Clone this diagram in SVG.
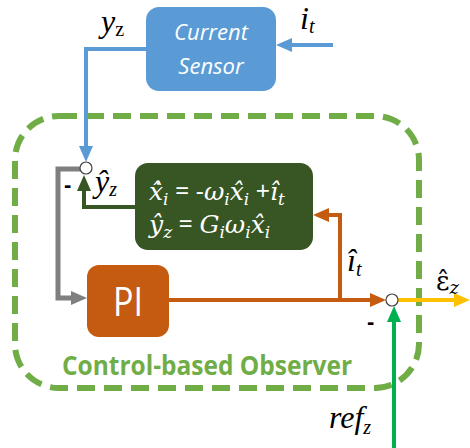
<svg xmlns="http://www.w3.org/2000/svg" width="470" height="448" viewBox="0 0 470 448">
<style>
.ln{fill:none;stroke-linejoin:miter}
.math{font-family:"Liberation Serif","DejaVu Serif",serif;font-style:italic;fill:#000;font-size:32px}
.sub{font-size:20px}
.eq{font-family:"DejaVu Serif",serif;font-style:italic;fill:#fff;font-size:25px}
.eq .sub{font-size:17px}
.op{font-family:"Open Sans","Liberation Sans",sans-serif;font-style:normal}
.minus{font-family:"Liberation Sans",sans-serif;font-weight:bold;font-size:22px;fill:#000}
.box{font-family:"Open Sans","Liberation Sans",sans-serif;fill:#fff}
</style>
<defs>
<marker id="aBlue" markerUnits="userSpaceOnUse" markerWidth="16" markerHeight="14" refX="8" refY="7" orient="auto"><path d="M0,0 L16,7 L0,14 z" fill="#5B9BD5"/></marker>
<marker id="aGray" markerUnits="userSpaceOnUse" markerWidth="16" markerHeight="14" refX="8" refY="7" orient="auto"><path d="M0,0 L16,7 L0,14 z" fill="#7F7F7F"/></marker>
<marker id="aDG" markerUnits="userSpaceOnUse" markerWidth="16" markerHeight="14" refX="8" refY="7" orient="auto"><path d="M0,0 L16,7 L0,14 z" fill="#375623"/></marker>
<marker id="aOr" markerUnits="userSpaceOnUse" markerWidth="16" markerHeight="14" refX="8" refY="7" orient="auto"><path d="M0,0 L16,7 L0,14 z" fill="#C55A11"/></marker>
<marker id="aYel" markerUnits="userSpaceOnUse" markerWidth="16" markerHeight="14" refX="8" refY="7" orient="auto"><path d="M0,0 L16,7 L0,14 z" fill="#FFC000"/></marker>
<marker id="aGr" markerUnits="userSpaceOnUse" markerWidth="16" markerHeight="14" refX="8" refY="7" orient="auto"><path d="M0,0 L16,7 L0,14 z" fill="#00B050"/></marker>
</defs>
<rect width="470" height="448" fill="#fff"/>

<g id="observer">
<rect x="15" y="116" width="404" height="272" rx="44" fill="none" stroke="#70AD47" stroke-width="6" stroke-dasharray="18 9"/>
<text x="62" y="375" font-family="'Open Sans','Liberation Sans',sans-serif" font-weight="bold" font-size="26" fill="#70AD47" textLength="290" lengthAdjust="spacingAndGlyphs">Control-based Observer</text>
</g>

<g id="connectors">
<path class="ln" d="M333,45 H284" stroke="#5B9BD5" stroke-width="4" marker-end="url(#aBlue)"/>
<path class="ln" d="M146,49 H86 V154" stroke="#5B9BD5" stroke-width="4" marker-end="url(#aBlue)"/>
<path class="ln" d="M80,169 H58 V298 H79" stroke="#7F7F7F" stroke-width="5" marker-end="url(#aGray)"/>
<path class="ln" d="M135,207 H84 V183" stroke="#375623" stroke-width="4" marker-end="url(#aDG)"/>
<path class="ln" d="M169,300 H378" stroke="#C55A11" stroke-width="4" marker-end="url(#aOr)"/>
<path class="ln" d="M340,300 V215 H321" stroke="#C55A11" stroke-width="4" marker-end="url(#aOr)"/>
<path class="ln" d="M398,300 H462" stroke="#FFC000" stroke-width="4" marker-end="url(#aYel)"/>
<path class="ln" d="M394,448 V314" stroke="#00B050" stroke-width="4" marker-end="url(#aGr)"/>
</g>

<g id="sensor">
<rect x="146" y="7" width="130" height="84" rx="13" fill="#5B9BD5"/>
<text class="box" x="211" y="40" text-anchor="middle" font-style="italic" font-size="22">Current</text>
<text class="box" x="211" y="74" text-anchor="middle" font-style="italic" font-size="22">Sensor</text>
</g>

<g id="estimator">
<rect x="135" y="163" width="178" height="87" rx="13" fill="#375623"/>
<text class="eq" x="149" y="200">x&#x307;&#x302;<tspan class="sub" dy="5">i</tspan><tspan class="op" dy="-5"> = -</tspan>ω<tspan class="sub" dy="5">i</tspan><tspan dy="-5">x&#x302;</tspan><tspan class="sub" dy="5">i</tspan><tspan class="op" dy="-5"> +</tspan>î<tspan class="sub" dy="5">t</tspan></text>
<text class="eq" x="149" y="233">y&#x302;<tspan class="sub" dy="5">z</tspan><tspan class="op" dy="-5"> = </tspan>G<tspan class="sub" dy="5">i</tspan><tspan dy="-5">ω</tspan><tspan class="sub" dy="5">i</tspan><tspan dy="-5">x&#x302;</tspan><tspan class="sub" dy="5">i</tspan></text>
</g>

<g id="pi">
<rect x="87" y="265" width="82" height="72" rx="12" fill="#C55A11"/>
<text class="box" x="128" y="316" text-anchor="middle" font-size="40" textLength="30" lengthAdjust="spacingAndGlyphs">PI</text>
</g>

<g id="sum1">
<circle cx="86" cy="168" r="6" fill="#fff" stroke="#404040" stroke-width="1.2"/>
</g>
<g id="sum2">
<circle cx="392" cy="300" r="6" fill="#fff" stroke="#404040" stroke-width="1.2"/>
</g>

<g id="labels">
<text class="math" x="101" y="32">y<tspan class="sub" dy="4" font-style="normal">z</tspan></text>
<text class="math" x="300" y="29" font-size="26">i<tspan class="sub" dy="4">t</tspan></text>
<text class="math" x="95" y="192">y&#x302;<tspan class="sub" dy="4">z</tspan></text>
<text class="math" x="347" y="271" font-size="34">î<tspan class="sub" dy="5">t</tspan></text>
<text x="436" y="290" font-family="'DejaVu Serif',serif" font-size="26" fill="#000">ε&#x302;<tspan font-size="18" font-style="italic" dy="4">z</tspan></text>
<text class="math" x="329" y="428">ref<tspan class="sub" dy="6">z</tspan></text>
<text class="minus" x="64" y="192">-</text>
<text class="minus" x="367" y="329">-</text>
</g>
</svg>
